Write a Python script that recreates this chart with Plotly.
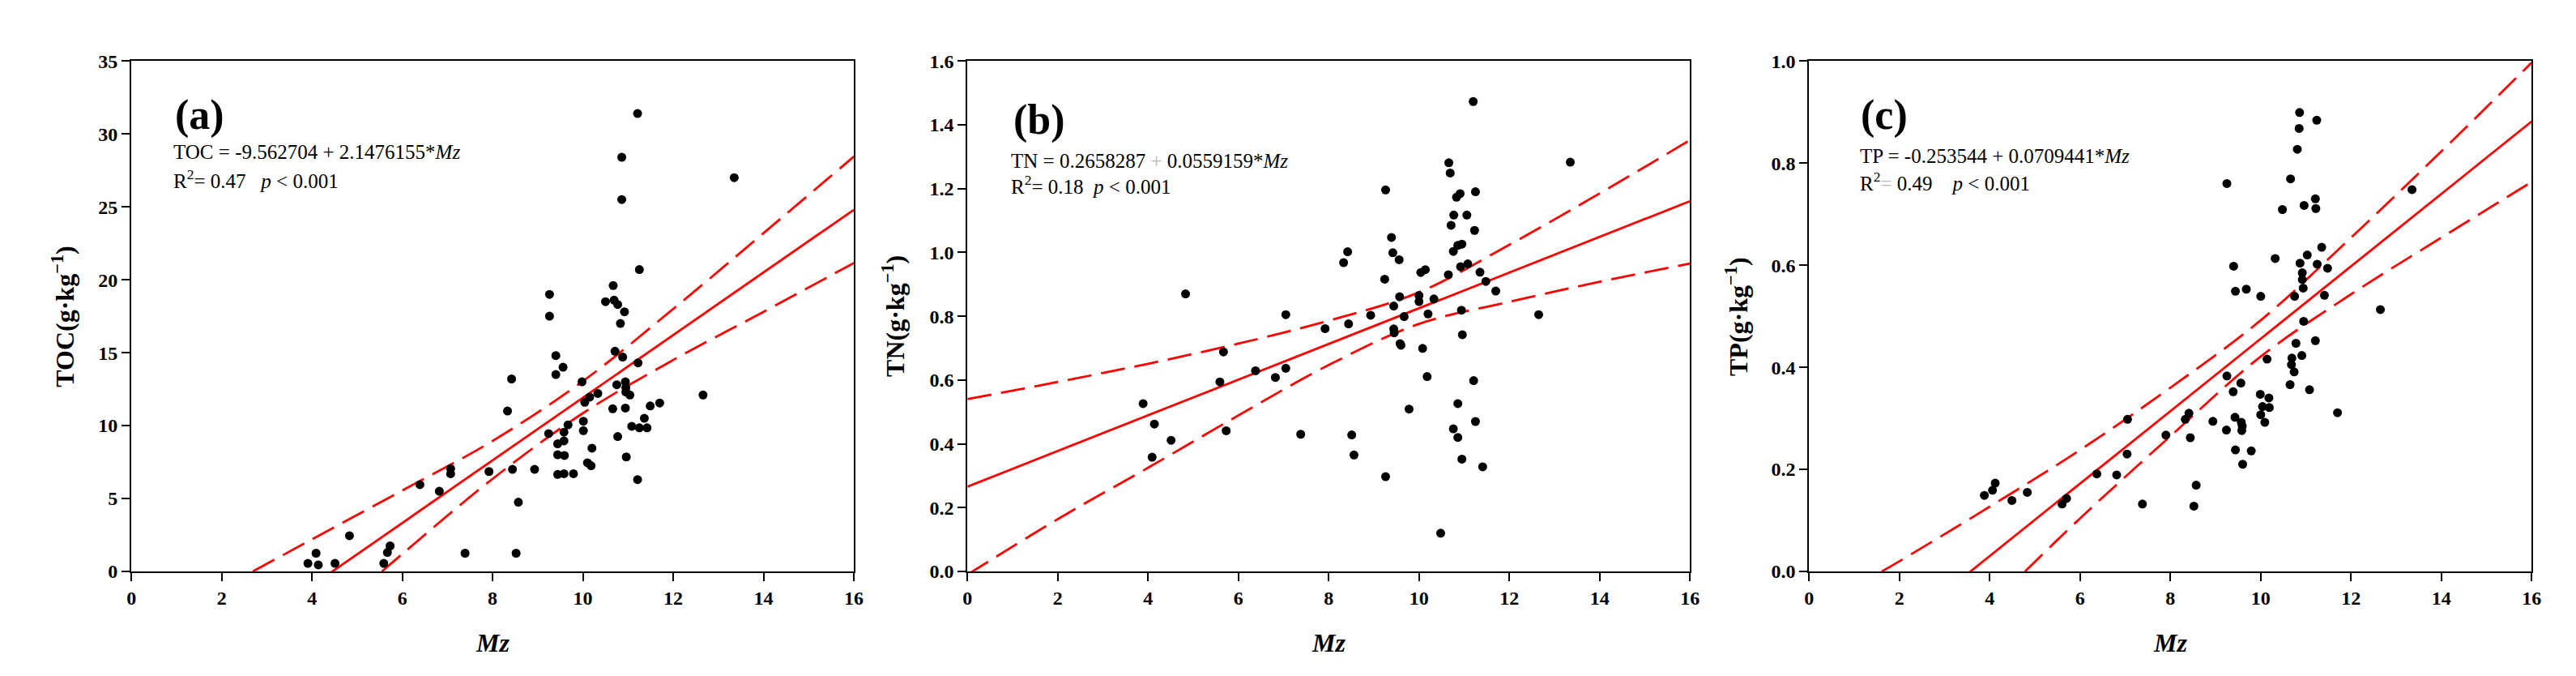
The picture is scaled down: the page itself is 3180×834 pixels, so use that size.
import plotly.graph_objects as go

# ---- data ----
# (a) TOC vs Mz
mz_a = [11.21, 10.86, 13.35, 10.86, 11.25, 9.26, 10.67, 10.50, 10.69, 10.77,
        9.26, 10.92, 10.83, 10.71, 9.40, 10.88, 9.56, 11.22, 9.40, 8.42,
        9.98, 10.75, 10.94, 10.95, 10.95, 11.04, 10.33, 10.15, 10.04, 12.66,
        11.70, 11.49, 10.66, 10.94, 8.33, 11.36, 10.01, 9.67, 11.08, 11.25,
        11.42, 10.01, 9.24, 9.58, 10.77, 9.44, 9.58, 10.20, 9.44, 9.59,
        10.96, 10.10, 10.18, 7.07, 7.07, 8.44, 8.93, 7.92, 9.44, 9.58,
        9.79, 11.21, 6.39, 6.82, 8.57, 4.83, 5.73, 5.67, 4.09, 7.39,
        8.52, 3.91, 4.14, 4.51, 5.59]
toc = [31.4, 28.4, 27.0, 25.5, 20.7, 19.0, 19.6, 18.5, 18.6, 18.3,
       17.5, 17.8, 17.0, 15.1, 14.8, 14.7, 14.0, 14.3, 13.5, 13.2,
       13.0, 12.8, 13.0, 12.6, 12.3, 12.1, 12.2, 11.95, 11.6, 12.1,
       11.55, 11.35, 11.15, 11.2, 11.0, 10.5, 10.3, 10.05, 9.95, 9.85,
       9.85, 9.65, 9.45, 9.55, 9.25, 8.75, 8.95, 8.45, 8.0, 7.95,
       7.85, 7.45, 7.25, 7.05, 6.7, 7.0, 7.0, 6.85, 6.65, 6.7,
       6.7, 6.3, 5.95, 5.5, 4.75, 2.45, 1.75, 1.3, 1.25, 1.25,
       1.25, 0.55, 0.45, 0.55, 0.55]
coef_a = (-9.562704, 2.1476155)
up_a_x = [2.69, 4, 6, 8, 10, 12, 14, 16]
up_a_y = [0, 2.2, 5.55, 8.95, 13.05, 18.0, 23.2, 28.45]
lo_a_x = [5.55, 6, 8, 10, 12, 14, 16]
lo_a_y = [0, 1.2, 6.35, 10.85, 14.5, 17.8, 21.15]

# (b) TN vs Mz
mz_b = [11.20, 10.66, 13.35, 10.69, 9.26, 10.91, 10.83, 11.25, 10.77, 11.06,
        10.71, 11.23, 9.39, 10.95, 10.86, 9.42, 8.42, 10.76, 9.56, 8.33,
        11.08, 10.92, 10.14, 10.04, 11.35, 10.65, 9.24, 11.48, 11.70, 9.57,
        10.00, 10.00, 10.33, 9.44, 10.94, 7.05, 8.93, 9.67, 10.20, 12.65,
        7.92, 8.44, 9.44, 9.45, 10.96, 9.58, 9.60, 10.08, 5.67, 6.38,
        7.05, 6.82, 10.18, 5.59, 11.21, 4.83, 3.89, 9.78, 10.86, 11.25,
        4.14, 5.73, 10.76, 7.38, 8.51, 4.51, 10.86, 4.09, 8.56, 10.95,
        11.41, 9.26, 10.48]
tn = [1.473, 1.281, 1.283, 1.249, 1.196, 1.184, 1.173, 1.190, 1.117, 1.117,
      1.085, 1.069, 1.047, 1.026, 1.022, 0.999, 1.002, 1.003, 0.977, 0.968,
      0.964, 0.955, 0.946, 0.937, 0.938, 0.930, 0.916, 0.909, 0.879, 0.861,
      0.865, 0.846, 0.854, 0.832, 0.819, 0.805, 0.803, 0.799, 0.807, 0.805,
      0.761, 0.776, 0.760, 0.748, 0.742, 0.714, 0.709, 0.699, 0.688, 0.629,
      0.637, 0.608, 0.611, 0.594, 0.598, 0.870, 0.526, 0.509, 0.526, 0.470,
      0.462, 0.441, 0.447, 0.430, 0.428, 0.411, 0.420, 0.358, 0.365, 0.352,
      0.328, 0.297, 0.120]
coef_b = (0.2658287, 0.0559159)
up_b_x = [0, 2, 4, 6, 8, 10, 12, 14, 16]
up_b_y = [0.540, 0.594, 0.651, 0.714, 0.786, 0.875, 1.024, 1.185, 1.352]
lo_b_x = [0, 2, 4, 6, 8, 10, 12, 14, 16]
lo_b_y = [-0.01, 0.164, 0.325, 0.489, 0.647, 0.776, 0.845, 0.908, 0.965]

# (c) TP vs Mz
mz_c = [10.86, 11.24, 10.85, 10.81, 9.25, 10.66, 13.35, 11.21, 11.22, 10.96,
        10.48, 11.35, 11.03, 10.32, 9.40, 10.87, 11.25, 11.48, 10.92, 10.92,
        10.94, 9.44, 9.68, 10.00, 10.75, 11.41, 12.65, 10.95, 11.21, 10.78,
        10.91, 10.14, 10.69, 10.68, 10.74, 9.25, 9.56, 10.65, 11.08, 9.39,
        9.99, 10.18, 10.04, 10.19, 11.70, 8.41, 8.33, 7.05, 9.43, 8.94,
        9.57, 10.09, 9.59, 9.58, 9.24, 10.00, 7.90, 8.44, 9.44, 9.79,
        7.04, 9.60, 6.37, 6.81, 8.57, 4.12, 4.06, 3.88, 4.83, 4.49,
        5.70, 5.60, 7.38, 8.52]
tp = [0.899, 0.884, 0.868, 0.827, 0.760, 0.769, 0.748, 0.730, 0.711, 0.717,
      0.709, 0.635, 0.620, 0.613, 0.598, 0.604, 0.602, 0.594, 0.585, 0.572,
      0.555, 0.549, 0.553, 0.539, 0.539, 0.541, 0.513, 0.490, 0.452, 0.447,
      0.423, 0.416, 0.418, 0.405, 0.391, 0.383, 0.369, 0.366, 0.356, 0.352,
      0.347, 0.340, 0.323, 0.321, 0.311, 0.310, 0.298, 0.298, 0.302, 0.294,
      0.292, 0.292, 0.285, 0.276, 0.277, 0.307, 0.267, 0.262, 0.238, 0.236,
      0.230, 0.210, 0.191, 0.189, 0.169, 0.173, 0.159, 0.149, 0.155, 0.139,
      0.143, 0.132, 0.132, 0.128]
coef_c = (-0.253544, 0.0709441)
up_c_x = [1.61, 2, 4, 6, 8, 10, 12, 14, 16]
up_c_y = [0, 0.02, 0.127, 0.238, 0.36, 0.492, 0.654, 0.823, 0.997]
lo_c_x = [4.78, 6, 8, 10, 12, 14, 16]
lo_c_y = [0, 0.104, 0.265, 0.421, 0.543, 0.654, 0.763]

W, H = 3180, 834
FONT = "Liberation Serif"
RED = "#ff0000"

panels = [
    dict(x=mz_a, y=toc, coef=coef_a, up=(up_a_x, up_a_y), lo=(lo_a_x, lo_a_y),
         left=149, right=1046, yrange=[0, 35], dtick=5, fmt="d",
         ytitle="TOC(g·kg<sup>−1</sup>)", ytitle_x=64,
         tag="(a)", tag_x=201, tag_y=125,
         eq1="TOC = -9.562704 + 2.1476155*<i>Mz</i>",
         eq2="R<sup>2</sup>= 0.47   <i>p</i> &lt; 0.001",
         eq_x=199, eq_y=(172, 206)),
    dict(x=mz_b, y=tn, coef=coef_b, up=(up_b_x, up_b_y), lo=(lo_b_x, lo_b_y),
         left=1187, right=2084, yrange=[0, 1.6], dtick=0.2, fmt=".1f",
         ytitle="TN(g·kg<sup>−1</sup>)", ytitle_x=1095,
         tag="(b)", tag_x=1242, tag_y=131,
         eq1="TN = 0.2658287 <span style='color:#b8b8b8'>+</span> 0.0559159*<i>Mz</i>",
         eq2="R<sup>2</sup>= 0.18  <i>p</i> &lt; 0.001",
         eq_x=1239, eq_y=(183, 214)),
    dict(x=mz_c, y=tp, coef=coef_c, up=(up_c_x, up_c_y), lo=(lo_c_x, lo_c_y),
         left=2232, right=3129, yrange=[0, 1.0], dtick=0.2, fmt=".1f",
         ytitle="TP(g·kg<sup>−1</sup>)", ytitle_x=2142,
         tag="(c)", tag_x=2294, tag_y=125,
         eq1="TP = -0.253544 + 0.0709441*<i>Mz</i>",
         eq2="R<sup>2</sup><span style='color:#b8b8b8'>=</span> 0.49    <i>p</i> &lt; 0.001",
         eq_x=2293, eq_y=(177, 210)),
]

plot_top, plot_bottom = 56, 706

fig = go.Figure()
annotations = []
layout = {}

for i, p in enumerate(panels):
    n = "" if i == 0 else str(i + 1)
    xa, ya = "x" + n, "y" + n

    # fitted line from the printed equation
    fx = [0, 16]
    fy = [p["coef"][0] + p["coef"][1] * v for v in fx]

    fig.add_trace(go.Scatter(x=p["up"][0], y=p["up"][1], mode="lines", xaxis=xa, yaxis=ya,
                             line=dict(color=RED, width=2.8, dash="30px,12px", shape="spline"),
                             showlegend=False, hoverinfo="skip"))
    fig.add_trace(go.Scatter(x=p["lo"][0], y=p["lo"][1], mode="lines", xaxis=xa, yaxis=ya,
                             line=dict(color=RED, width=2.8, dash="30px,12px", shape="spline"),
                             showlegend=False, hoverinfo="skip"))
    fig.add_trace(go.Scatter(x=fx, y=fy, mode="lines", xaxis=xa, yaxis=ya,
                             line=dict(color=RED, width=2.8),
                             showlegend=False, hoverinfo="skip"))
    fig.add_trace(go.Scatter(x=p["x"], y=p["y"], mode="markers", xaxis=xa, yaxis=ya,
                             marker=dict(color="black", size=11, line=dict(width=0)),
                             showlegend=False))

    axis_common = dict(showline=True, linecolor="black", linewidth=2, mirror=True,
                       ticks="outside", ticklen=10, tickwidth=2, tickcolor="black",
                       showgrid=False, zeroline=False,
                       tickfont=dict(family=FONT, size=24, color="black", weight="bold"))
    layout["xaxis" + n] = dict(axis_common, domain=[p["left"] / W, p["right"] / W],
                               range=[0, 16], dtick=2, tick0=0, anchor=ya)
    layout["yaxis" + n] = dict(axis_common, domain=[1 - plot_bottom / H, 1 - plot_top / H],
                               range=p["yrange"], dtick=p["dtick"], tick0=0,
                               tickformat=p["fmt"], anchor=xa)

    cx = (p["left"] + p["right"]) / 2
    annotations += [
        dict(text="Mz", x=cx / W, y=1 - 797 / H,
             font=dict(family=FONT, size=32, color="black", weight="bold", style="italic")),
        dict(text=p["ytitle"], x=p["ytitle_x"] / W, y=1 - 381 / H, textangle=-90,
             font=dict(family=FONT, size=32, color="black", weight="bold")),
        dict(text=p["tag"], x=p["tag_x"] / W, y=1 - p["tag_y"] / H, xanchor="left",
             font=dict(family=FONT, size=52, color="black", weight="bold")),
        dict(text=p["eq1"], x=p["eq_x"] / W, y=1 - p["eq_y"][0] / H, xanchor="left",
             font=dict(family=FONT, size=25, color="black")),
        dict(text=p["eq2"], x=p["eq_x"] / W, y=1 - p["eq_y"][1] / H, xanchor="left",
             font=dict(family=FONT, size=25, color="black")),
    ]

for a in annotations:
    a.update(xref="paper", yref="paper", showarrow=False)
    a.setdefault("xanchor", "center")
    a.setdefault("yanchor", "middle")

fig.update_layout(width=W, height=H, margin=dict(l=0, r=0, t=0, b=0),
                  paper_bgcolor="white", plot_bgcolor="white",
                  annotations=annotations, **layout)

fig.write_html("out.html")
